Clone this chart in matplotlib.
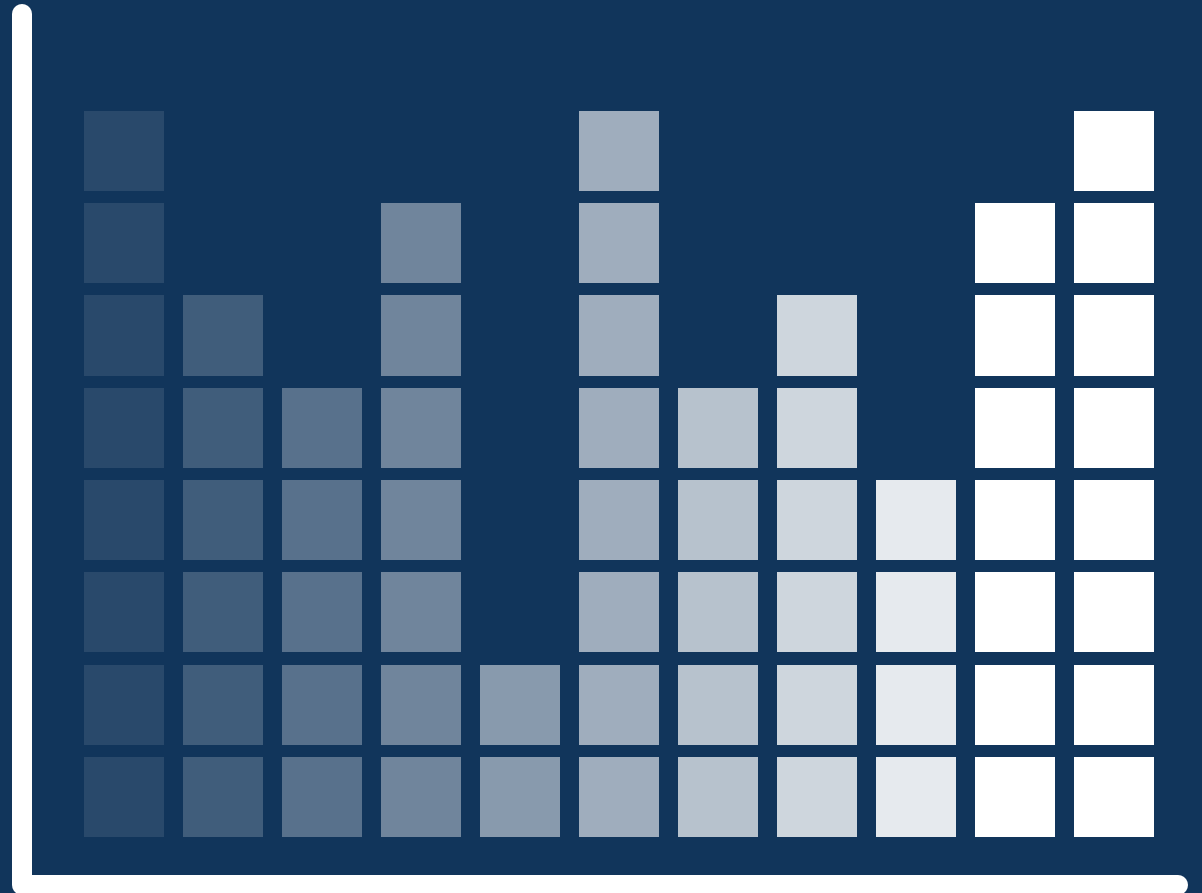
import numpy as np
import matplotlib
matplotlib.use('Agg')
import matplotlib.pyplot as plt

# ── data ──────────────────────────────────────────────────────────────────────
columns = list(range(11))
heights = [8, 6, 5, 7, 2, 8, 5, 6, 4, 7, 8]
alphas  = [0.1, 0.2, 0.3, 0.4, 0.5, 0.6, 0.7, 0.8, 0.9, 1.0, 1.0]

# ── style ─────────────────────────────────────────────────────────────────────
BG    = '#11355b'
BLOCK = '#ffffff'

fig = plt.figure(figsize=(12.02, 8.93), dpi=100, facecolor=BG)
ax = fig.add_axes([0, 0, 1, 1])
ax.set_facecolor(BG)

# pixel pitch: 99 px per column, 92.3 px per row
ax.set_xlim(-124 / 99, (1202 - 124) / 99)
ax.set_ylim(-56 / 92.3, (893 - 56) / 92.3)

# stacked unit blocks
for x, h, a in zip(columns, heights, alphas):
    for k in range(h):
        ax.bar(x, 0.867, width=0.808, bottom=k, color=BLOCK, alpha=a,
               linewidth=0)

# L-shaped axis line with rounded ends
ax.plot([-1.03, -1.03, 10.646], [8.917, -0.52, -0.52], color='white',
        lw=14.4, solid_capstyle='round', solid_joinstyle='round',
        clip_on=False)

ax.axis('off')
fig.savefig('out.png', dpi=100, facecolor=BG)
